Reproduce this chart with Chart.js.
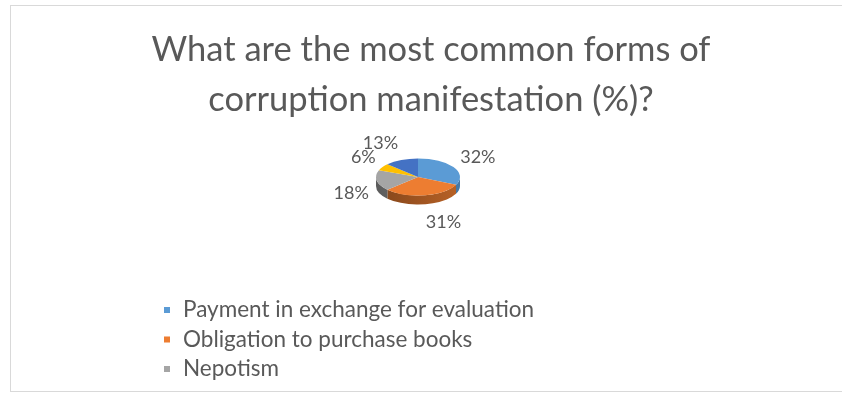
<!DOCTYPE html>
<html>
<head>
<meta charset="utf-8">
<script src="https://cdn.jsdelivr.net/npm/chart.js@4/dist/chart.umd.min.js"></script>
<style>
  html, body { margin: 0; padding: 0; background: #ffffff; overflow: hidden; }
  #wrap { width: 842px; height: 394px; overflow: hidden; }
  canvas { display: block; }
</style>
</head>
<body>
<div id="wrap"><canvas id="c" width="842" height="394"></canvas></div>
<script>
// Survey answers: most common forms of corruption (%)
const titleLines = ['What are the most common forms of', 'corruption manifestation (%)?'];
const categories = [
  'Payment in exchange for evaluation',
  'Obligation to purchase books',
  'Nepotism',
  'Other forms',
  'Other'
];
const shares = [32, 31, 18, 6, 13];
const sliceColors = ['#5B9BD5', '#ED7D31', '#A5A5A5', '#FFC000', '#4472C4'];

const TEXT = '#595959';
const FONT = 'Lato, "Open Sans", sans-serif';
const TILT = 0.44;   // vertical squash of the pie top
const DEPTH = 9;     // thickness of the pie edge, px

function shade(hex, f) {
  const n = parseInt(hex.slice(1), 16);
  const r = Math.round(((n >> 16) & 255) * f);
  const g = Math.round(((n >> 8) & 255) * f);
  const b = Math.round((n & 255) * f);
  return `rgb(${r},${g},${b})`;
}

// Draws the pie as a tilted disc with a visible front edge
const tiltedPie = {
  id: 'tiltedPie',
  beforeDatasetsDraw(chart) {
    const ctx = chart.ctx;
    const meta = chart.getDatasetMeta(0);
    const { x: cx, y: cy, outerRadius: r } = meta.data[0].getProps(['x', 'y', 'outerRadius'], true);
    const ry = r * TILT;
    meta.data.forEach((arc, i) => {
      const { startAngle, endAngle } = arc.getProps(['startAngle', 'endAngle'], true);
      [-2 * Math.PI, 0, 2 * Math.PI].forEach(base => {
        const lo = Math.max(startAngle, base);
        const hi = Math.min(endAngle, base + Math.PI);
        if (lo >= hi) return;
        const grad = ctx.createLinearGradient(cx - r, 0, cx + r, 0);
        const col = sliceColors[i % sliceColors.length];
        grad.addColorStop(0, shade(col, 0.55));
        grad.addColorStop(1, shade(col, 0.78));
        ctx.beginPath();
        ctx.ellipse(cx, cy, r, ry, 0, lo, hi);
        ctx.ellipse(cx, cy + DEPTH, r, ry, 0, hi, lo, true);
        ctx.closePath();
        ctx.fillStyle = grad;
        ctx.fill();
      });
    });
    ctx.save();
    ctx.translate(0, cy);
    ctx.scale(1, TILT);
    ctx.translate(0, -cy);
  },
  afterDatasetsDraw(chart) {
    chart.ctx.restore();
  }
};

// Frame, title, value labels and the legend list
const decorations = {
  id: 'decorations',
  beforeDraw(chart) {
    const ctx = chart.ctx;
    ctx.save();
    ctx.strokeStyle = '#d9d9d9';
    ctx.lineWidth = 1;
    ctx.strokeRect(10.5, 5.5, 900, 386);
    ctx.restore();
  },
  afterDraw(chart) {
    const ctx = chart.ctx;
    ctx.save();
    ctx.fillStyle = TEXT;

    // title
    ctx.font = `34.5px ${FONT}`;
    ctx.textAlign = 'center';
    ctx.textBaseline = 'middle';
    titleLines.forEach((t, k) => ctx.fillText(t, 431, 50 + k * 50));

    // value labels around the pie
    const meta = chart.getDatasetMeta(0);
    ctx.font = `18px ${FONT}`;
    meta.data.forEach((arc, i) => {
      const { x: cx, y: cy, outerRadius: r, startAngle, endAngle } =
        arc.getProps(['x', 'y', 'outerRadius', 'startAngle', 'endAngle'], true);
      const m = (startAngle + endAngle) / 2;
      const c = Math.cos(m), s = Math.sin(m);
      const lx = cx + c * (r + 8);
      const ly = cy + s * (r * TILT + 18) + (s > 0 ? DEPTH : 0);
      ctx.textAlign = c > 0.3 ? 'left' : (c < -0.3 ? 'right' : 'left');
      ctx.fillText(shares[i] + '%', lx, ly);
    });

    // legend, one entry per line, clipped by the frame
    ctx.font = `22.5px ${FONT}`;
    ctx.textAlign = 'left';
    const lineH = 29.5;
    categories.forEach((name, i) => {
      const y = 310 + i * lineH;
      if (y + 10 > 391) return;
      ctx.fillStyle = sliceColors[i];
      ctx.fillRect(164, y - 3, 6, 6);
      ctx.fillStyle = TEXT;
      ctx.fillText(name, 183, y);
    });
    ctx.restore();
  }
};

new Chart(document.getElementById('c'), {
  type: 'pie',
  data: {
    labels: categories,
    datasets: [{
      data: shares,
      backgroundColor: sliceColors,
      borderWidth: 0
    }]
  },
  options: {
    responsive: false,
    animation: false,
    layout: { padding: { left: 376, right: 382, top: 135, bottom: 175 } },
    plugins: {
      legend: { display: false },
      title: { display: false },
      tooltip: { enabled: false }
    }
  },
  plugins: [tiltedPie, decorations]
});
</script>
</body>
</html>
